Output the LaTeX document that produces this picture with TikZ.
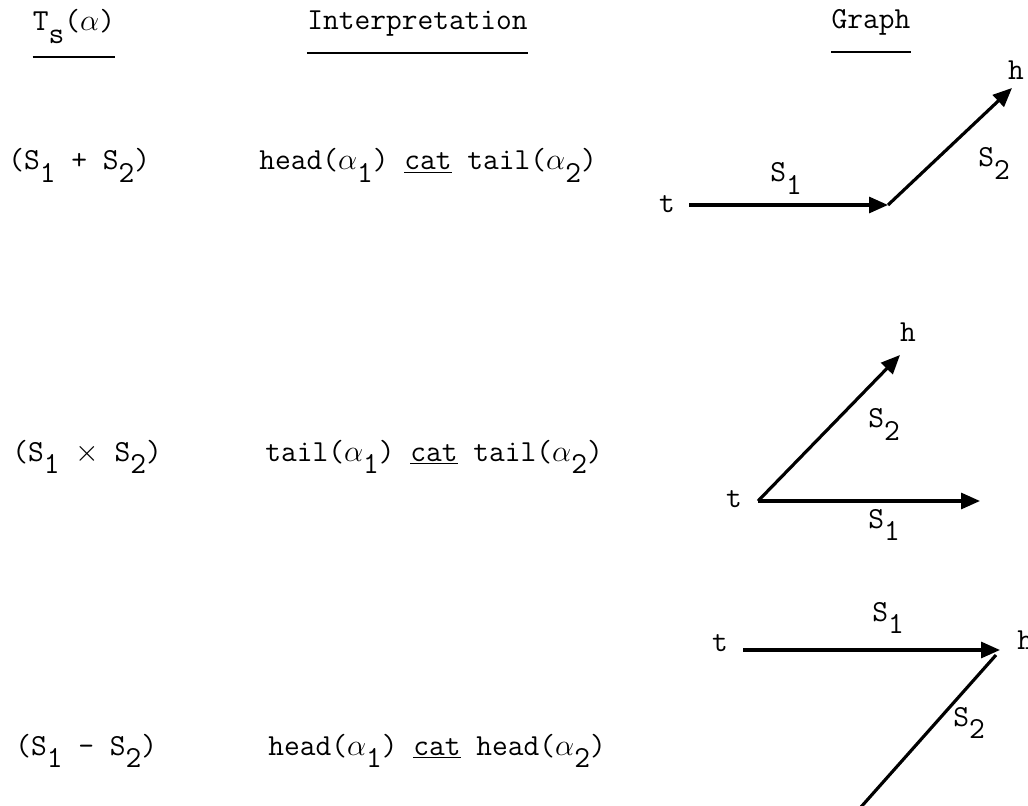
\documentclass[tikz,border=0pt]{standalone}
\usetikzlibrary{positioning, arrows.meta}

\newcommand\subs[1]{\raisebox{-0.4em}{#1}}

\begin{document}
\begin{tikzpicture}[
  font=\fontsize{17.4pt}{21pt}\selectfont\ttfamily,
  txt/.style={inner sep=0pt, anchor=base west},
  hdr/.style={inner sep=0pt, anchor=base},
  rule/.style={line width=1.4pt},
  seg/.style={line width=1.8pt},
  arr/.style={seg, -{Triangle[length=0.38cm, width=0.32cm]}}
]
\useasboundingbox (0,0) rectangle (20.56,-16.12);

% ── Headers ──────────────────────────────────────────────────────────────────
\node[hdr] (hdts)  at (1.48,-0.62)  {T\subs{s}($\alpha$)};
\node[hdr] (hdint) at (8.35,-0.60)  {Interpretation};
\node[hdr] (hdgr)  at (17.42,-0.58) {Graph};

\foreach \hd/\dy in {hdts/0.52, hdint/0.46, hdgr/0.46}
  \draw[rule] ([yshift=-\dy cm]\hd.base west) -- ([yshift=-\dy cm]\hd.base east);

% ── 1. sum ───────────────────────────────────────────────────────────────────
\node[txt] (sum)    at (0.16,-3.40) {(S\subs{1} + S\subs{2})};
\node[txt] (sumint) at (5.18,-3.40)
  {head($\alpha$\subs{1}) \underline{cat} tail($\alpha$\subs{2})};

\coordinate (st1)  at (13.78,-4.10);
\coordinate (mid1) at (17.76,-4.10);
\coordinate (tip1) at (20.24,-1.76);
\node[txt, anchor=base] (t1) at (13.34,-4.26) {t};
\node[txt, anchor=base] (h1) at (20.32,-1.60) {h};
\node[txt] (s1a) at (15.40,-3.64) {S\subs{1}};
\node[txt] (s1b) at (19.56,-3.34) {S\subs{2}};

\draw[arr] (st1) -- (mid1);
\draw[arr] (mid1) -- (tip1);

% ── 2. product ───────────────────────────────────────────────────────────────
\node[txt] (prod)    at (0.24,-9.22) {(S\subs{1} $\times$ S\subs{2})};
\node[txt] (prodint) at (5.30,-9.22)
  {tail($\alpha$\subs{1}) \underline{cat} tail($\alpha$\subs{2})};

\coordinate (st2)   at (15.16,-10.02);
\coordinate (tip2a) at (19.60,-10.02);
\coordinate (tip2b) at (18.00,-7.10);
\node[txt, anchor=base] (t2) at (14.68,-10.14) {t};
\node[txt, anchor=base] (h2) at (18.16,-6.84) {h};
\node[txt] (s2a) at (17.36,-10.56) {S\subs{1}};
\node[txt] (s2b) at (17.36,-8.56)  {S\subs{2}};

\draw[arr] (st2) -- (tip2a);
\draw[arr] (st2) -- (tip2b);

% ── 3. difference ────────────────────────────────────────────────────────────
\node[txt] (diff)    at (0.30,-15.10) {(S\subs{1} - S\subs{2})};
\node[txt] (diffint) at (5.36,-15.10)
  {head($\alpha$\subs{1}) \underline{cat} head($\alpha$\subs{2})};

\coordinate (st3)  at (14.86,-13.00);
\coordinate (tip3) at (20.00,-13.00);
\coordinate (bot3) at (17.06,-16.32);
\node[txt, anchor=base] (t3) at (14.40,-13.02) {t};
\node[txt] (h3)  at (20.34,-12.98) {h};
\node[txt] (s3a) at (17.44,-12.42) {S\subs{1}};
\node[txt] (s3b) at (19.06,-14.52) {S\subs{2}};

\draw[arr] (st3) -- (tip3);
\draw[seg] (bot3) -- ([shift={(-0.08cm,-0.10cm)}]tip3);

\end{tikzpicture}
\end{document}
